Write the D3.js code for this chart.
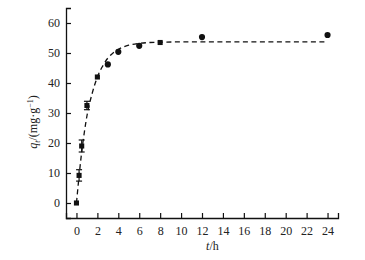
<!DOCTYPE html>
<html>
<head>
<meta charset="utf-8">
<script src="https://cdn.jsdelivr.net/npm/d3@7"></script>
<style>
  body { margin: 0; background: #fff; }
  svg { display: block; font-family: "Liberation Serif", "DejaVu Serif", serif; }
</style>
</head>
<body>
<div id="chart"></div>
<script>
// measured points
const times = [0, 0.25, 0.5, 1, 2, 3, 4, 6, 8, 12, 24];
const qValues = [0, 9.2, 19, 32.5, 42, 46.2, 50.4, 52.4, 53.5, 55.3, 56];
const qErrors = [0.4, 1.9, 2, 1.4, 0.8, 0.5, 0.6, 0.5, 0.5, 0.5, 0.5];

// fitted curve
const fitTimes = [0, 0.25, 0.5, 0.75, 1, 1.5, 2, 2.5, 3, 3.5, 4, 5, 6, 7, 8, 10, 12, 16, 20, 24];
const fitValues = [0, 9, 17, 23.5, 29, 36.5, 42, 45.6, 48.3, 50, 51.2, 52.6, 53.2, 53.5, 53.6, 53.7, 53.7, 53.7, 53.7, 53.7];

const xTicks = [0, 2, 4, 6, 8, 10, 12, 14, 16, 18, 20, 22, 24];
const yTicks = [0, 10, 20, 30, 40, 50, 60];

const width = 365;
const height = 260;

const x = d3.scaleLinear().domain([-1, 25]).range([66, 338]);
const y = d3.scaleLinear().domain([-5, 65]).range([218, 8]);

const svg = d3.select("#chart")
  .append("svg")
  .attr("width", width)
  .attr("height", height);

//axes
const gx = svg.append("g")
  .attr("transform", `translate(0,${y.range()[0]})`)
  .call(d3.axisBottom(x).tickValues(xTicks).tickSizeInner(-5).tickSizeOuter(-5).tickPadding(8));

const gy = svg.append("g")
  .attr("transform", `translate(${x.range()[0]},0)`)
  .call(d3.axisLeft(y).tickValues(yTicks).tickSizeInner(-5).tickSizeOuter(-5).tickPadding(6));

[gx, gy].forEach((g) => {
  g.select(".domain").attr("stroke", "#111").attr("stroke-width", 1.3);
  g.selectAll(".tick line").attr("stroke", "#111").attr("stroke-width", 1.2);
  g.selectAll(".tick text")
    .attr("fill", "#222")
    .attr("font-size", 12)
    .attr("font-family", "Liberation Serif, serif");
});

//fit line
const fitData = fitTimes.map((t, i) => ({ t, q: fitValues[i] }));
svg.append("path")
  .datum(fitData)
  .attr("fill", "none")
  .attr("stroke", "#111")
  .attr("stroke-width", 1.3)
  .attr("stroke-dasharray", "5,3.5")
  .attr("d", d3.line().x((d) => x(d.t)).y((d) => y(d.q)).curve(d3.curveMonotoneX));

//points
const points = times.map((t, i) => ({ t, q: qValues[i], e: qErrors[i] }));

const gErr = svg.append("g").attr("stroke", "#111").attr("stroke-width", 1.2);
points.forEach((d) => {
  if (d.e < 1) return;
  gErr.append("line")
    .attr("x1", x(d.t)).attr("x2", x(d.t))
    .attr("y1", y(d.q - d.e)).attr("y2", y(d.q + d.e));
  [d.q - d.e, d.q + d.e].forEach((v) => {
    gErr.append("line")
      .attr("x1", x(d.t) - 3).attr("x2", x(d.t) + 3)
      .attr("y1", y(v)).attr("y2", y(v));
  });
});

const squareAt = (t) => t <= 2 || t === 8;
svg.append("g")
  .selectAll("path")
  .data(points)
  .join("path")
  .attr("transform", (d) => `translate(${x(d.t)},${y(d.q)})`)
  .attr("fill", "#111")
  .attr("d", (d) =>
    d3.symbol().type(squareAt(d.t) ? d3.symbolSquare : d3.symbolCircle).size(squareAt(d.t) ? 26 : 30)()
  );

//axis titles
const xTitle = svg.append("text")
  .attr("x", x(13))
  .attr("y", 250)
  .attr("text-anchor", "middle")
  .attr("font-size", 12)
  .attr("fill", "#222");
xTitle.append("tspan").attr("font-style", "italic").text("t");
xTitle.append("tspan").text("/h");

const yTitle = svg.append("text")
  .attr("transform", `translate(37,${y(27)})rotate(-90)`)
  .attr("text-anchor", "middle")
  .attr("font-size", 12)
  .attr("fill", "#222");
yTitle.append("tspan").attr("font-style", "italic").text("q");
yTitle.append("tspan").attr("font-style", "italic").attr("font-size", 8).attr("dy", 3).text("t");
yTitle.append("tspan").attr("dy", -3).text("/(mg·g");
yTitle.append("tspan").attr("font-size", 8).attr("dy", -4).text("−1");
yTitle.append("tspan").attr("dy", 4).text(")");
</script>
</body>
</html>
